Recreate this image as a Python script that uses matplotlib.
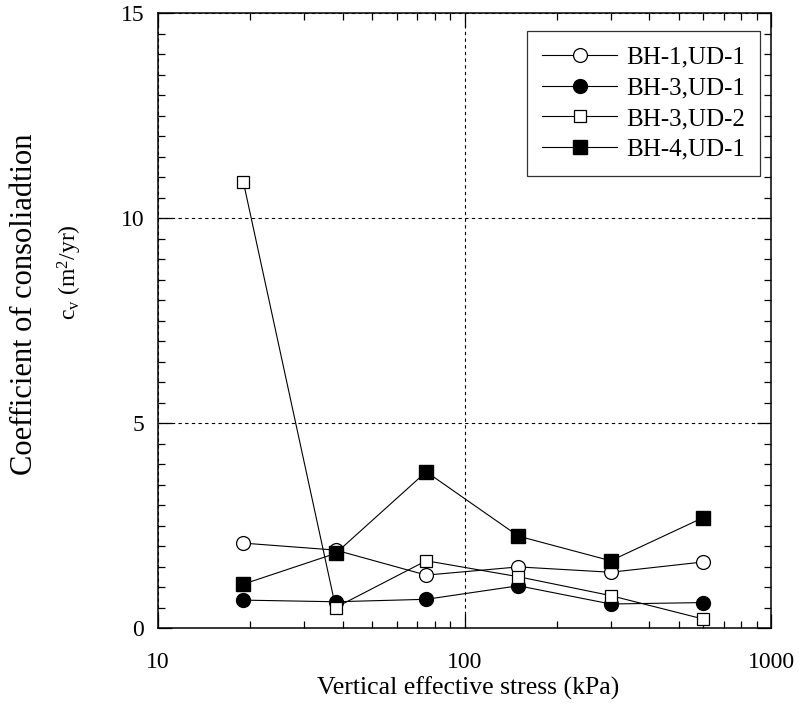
import matplotlib
matplotlib.use("Agg")
import matplotlib.pyplot as plt
from matplotlib.ticker import FixedLocator, MultipleLocator, NullFormatter

plt.rcParams['font.family'] = ['Liberation Serif', 'DejaVu Serif']
plt.rcParams['mathtext.fontset'] = 'custom'
plt.rcParams['mathtext.rm'] = 'Liberation Serif'
plt.rcParams['mathtext.it'] = 'Liberation Serif'

# Vertical effective stress (kPa) of each load step
stress = [19, 38, 75, 150, 300, 600]

# Coefficient of consolidation cv (m^2/yr)
bh1_ud1 = [2.07, 1.90, 1.29, 1.49, 1.36, 1.61]
bh3_ud1 = [0.68, 0.64, 0.70, 1.03, 0.585, 0.62]
bh3_ud2 = [10.87, 0.50, 1.64, 1.25, 0.79, 0.22]
bh4_ud1 = [1.07, 1.82, 3.81, 2.24, 1.64, 2.69]

series_names = ["BH-1,UD-1", "BH-3,UD-1", "BH-3,UD-2", "BH-4,UD-1"]

W, H = 799, 704
fig = plt.figure(figsize=(W / 100, H / 100), dpi=100)
ax_l, ax_r, ax_t, ax_b = 158, 771, 13, 628
ax = fig.add_axes([ax_l / W, 1 - ax_b / H, (ax_r - ax_l) / W, (ax_b - ax_t) / H])

ax.plot(stress, bh1_ud1, color='black', lw=0.8, marker='o', ms=10,
        mfc='white', mec='black', mew=0.9, label=series_names[0], zorder=3)
ax.plot(stress, bh3_ud1, color='black', lw=0.8, marker='o', ms=10,
        mfc='black', mec='black', label=series_names[1], zorder=3)
ax.plot(stress, bh3_ud2, color='black', lw=0.8, marker='s', ms=9,
        mfc='white', mec='black', mew=0.9, label=series_names[2], zorder=3)
ax.plot(stress, bh4_ud1, color='black', lw=0.8, marker='s', ms=10.5,
        mfc='black', mec='black', label=series_names[3], zorder=3)

ax.set_xscale('log')
ax.set_xlim(10, 1000)
ax.set_ylim(0, 15)

ax.xaxis.set_major_locator(FixedLocator([10, 100, 1000]))
ax.xaxis.set_minor_locator(FixedLocator([k * 10 ** d for d in (1, 2) for k in range(2, 10)]))
ax.xaxis.set_minor_formatter(NullFormatter())
ax.set_xticklabels(['10', '100', '1000'])
ax.yaxis.set_major_locator(MultipleLocator(5))
ax.yaxis.set_minor_locator(MultipleLocator(0.5))

ax.tick_params(which='both', direction='in', top=True, right=True,
               labelsize=17, width=0.9, color='black')
ax.tick_params(which='major', length=10)
ax.tick_params(which='minor', length=5)
ax.tick_params(axis='x', which='major', pad=17)
ax.tick_params(axis='y', which='major', pad=10)
for s in ax.spines.values():
    s.set_linewidth(1.1)

ax.grid(True, which='major', color='black', linestyle=(0, (3, 3)), linewidth=0.8)
ax.set_axisbelow(True)

# Axis titles
fig.text(468 / W, 1 - 695 / H, 'Vertical effective stress (kPa)', fontsize=18.5,
         ha='center', va='baseline')
fig.text(25 / W, 1 - 304 / H, 'Coefficient of consoliadtion', fontsize=22,
         rotation=90, ha='center', va='center')
fig.text(70 / W, 1 - 272 / H,
         r'c$_{\mathregular{v}}$ (m$^{\mathregular{2}}$/yr)', fontsize=17,
         rotation=90, ha='center', va='center')

leg = ax.legend(loc='upper right', bbox_to_anchor=(0.982, 0.9707), fontsize=18,
                frameon=True, fancybox=False, edgecolor='black',
                handlelength=3.0, handletextpad=0.36, borderpad=0.6,
                labelspacing=0.33, borderaxespad=0.0)
leg.get_frame().set_linewidth(0.9)

fig.savefig('out.png', dpi=100)
